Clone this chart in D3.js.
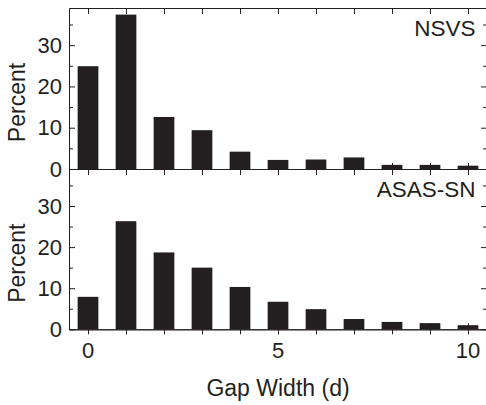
<!DOCTYPE html>
<html>
<head>
<meta charset="utf-8">
<script src="https://cdn.jsdelivr.net/npm/d3@7"></script>
<style>
  body { margin: 0; background: #fff; }
  text { font-family: "Liberation Sans", Arial, Helvetica, sans-serif; fill: #231f20; }
  .axis path, .axis line { stroke: #231f20; stroke-width: 1; }
</style>
</head>
<body>
<div id="chart"></div>
<script>
// Gap widths (days) and percent of gaps for each survey
const gapWidths = [0, 1, 2, 3, 4, 5, 6, 7, 8, 9, 10];
const nsvsPercent = [24.9, 37.4, 12.6, 9.4, 4.2, 2.2, 2.3, 2.8, 1.0, 1.0, 0.8];
const asasPercent = [7.9, 26.3, 18.7, 15.0, 10.3, 6.7, 4.9, 2.5, 1.8, 1.5, 1.0];
const panelNames = ["NSVS", "ASAS-SN"];
const yTicks = [0, 10, 20, 30];
const yMinor = [5, 15, 25, 35];
const xLabelTicks = [0, 5, 10];

const width = 486, height = 405;
const left = 69, right = 487;
const panels = [
  {name: panelNames[0], values: nsvsPercent, top: 8, bottom: 169},
  {name: panelNames[1], values: asasPercent, top: 169, bottom: 329.3}
];

const svg = d3.select("#chart").append("svg")
  .attr("width", width)
  .attr("height", height);

const x = d3.scaleLinear().domain([-0.5, 10.5]).range([left, right]);
const barW = (x(1) - x(0)) * 0.545;

panels.forEach((p, i) => {
  const y = d3.scaleLinear().domain([0, 39]).range([p.bottom, p.top]);
  const g = svg.append("g");

  // bars
  g.selectAll("rect.bar")
    .data(gapWidths)
    .enter()
    .append("rect")
    .attr("class", "bar")
    .attr("x", d => x(d) - barW / 2)
    .attr("width", barW)
    .attr("y", (d, j) => y(p.values[j]))
    .attr("height", (d, j) => y(0) - y(p.values[j]))
    .attr("fill", "#231f20");

  // left axis: labels + inward ticks
  g.append("g").attr("class", "axis")
    .attr("transform", `translate(${left},0)`)
    .call(d3.axisLeft(y).tickValues(yTicks).tickSize(-6).tickSizeOuter(0).tickPadding(7))
    .call(a => a.selectAll("text").style("font-size", "22px").attr("fill", "#231f20"));
  g.append("g").attr("class", "axis")
    .attr("transform", `translate(${left},0)`)
    .call(d3.axisLeft(y).tickValues(yMinor).tickSize(-4).tickSizeOuter(0).tickFormat(""));

  // right axis ticks
  g.append("g").attr("class", "axis")
    .attr("transform", `translate(${right},0)`)
    .call(d3.axisRight(y).tickValues(yTicks).tickSize(-6).tickSizeOuter(0).tickFormat(""));
  g.append("g").attr("class", "axis")
    .attr("transform", `translate(${right},0)`)
    .call(d3.axisRight(y).tickValues(yMinor).tickSize(-4).tickSizeOuter(0).tickFormat(""));

  // top axis (inward ticks)
  g.append("g").attr("class", "axis")
    .attr("transform", `translate(0,${p.top})`)
    .call(d3.axisBottom(x).tickValues(gapWidths).tickSize(6).tickSizeOuter(0).tickFormat(""));

  // bottom axis (ticks cross the line)
  const bottomAxis = g.append("g").attr("class", "axis")
    .attr("transform", `translate(0,${p.bottom})`)
    .call(d3.axisBottom(x).tickValues(gapWidths).tickSize(5).tickSizeOuter(0).tickFormat(""));
  g.append("g").attr("class", "axis")
    .attr("transform", `translate(0,${p.bottom})`)
    .call(d3.axisTop(x).tickValues(gapWidths).tickSize(6).tickSizeOuter(0).tickFormat(""));

  if (i === 1) {
    g.append("g")
      .selectAll("text")
      .data(xLabelTicks)
      .enter()
      .append("text")
      .attr("x", d => x(d))
      .attr("y", p.bottom + 29)
      .attr("text-anchor", "middle")
      .style("font-size", "22px")
      .text(d => d);
  }

  // panel name
  g.append("text")
    .attr("x", 475.5)
    .attr("y", p.top + 28 - (i === 1 ? 0.3 : 0))
    .attr("text-anchor", "end")
    .style("font-size", "22.5px")
    .text(p.name);

  // y label
  g.append("text")
    .attr("transform", `translate(25,${(p.top + p.bottom) / 2 + 14}) rotate(-90)`)
    .attr("text-anchor", "middle")
    .style("font-size", "23px")
    .text("Percent");
});

// x label
svg.append("text")
  .attr("x", (left + right) / 2)
  .attr("y", 396)
  .attr("text-anchor", "middle")
  .style("font-size", "23px")
  .text("Gap Width (d)");
</script>
</body>
</html>
